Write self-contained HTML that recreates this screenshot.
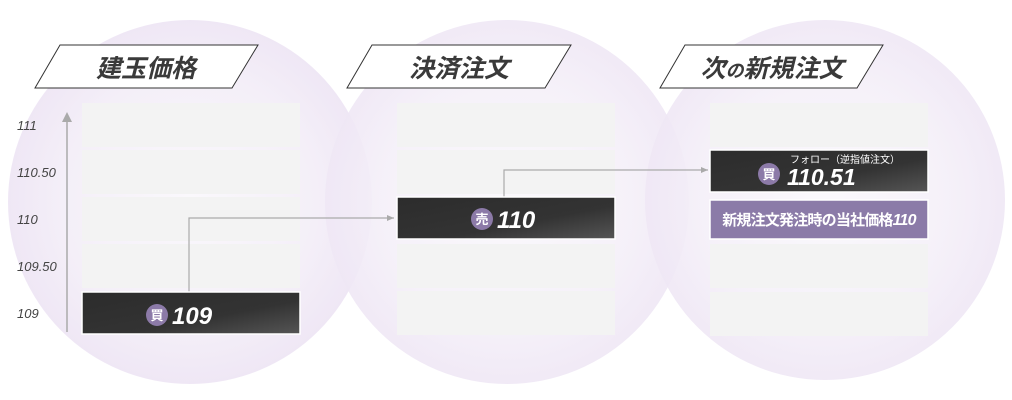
<!DOCTYPE html>
<html><head><meta charset="utf-8"><style>
html,body{margin:0;padding:0;background:#fff;}
svg{display:block}
text{font-family:"Liberation Sans","Noto Sans CJK JP",sans-serif;}
</style></head><body>
<svg width="1012" height="400" viewBox="0 0 1012 400" xmlns="http://www.w3.org/2000/svg">
<defs>
<radialGradient id="cg" cx="50%" cy="50%" r="50%">
<stop offset="0" stop-color="#faf8fc"/><stop offset="0.7" stop-color="#f4eff8"/><stop offset="1" stop-color="#efe7f5"/>
</radialGradient>
<linearGradient id="bar" x1="0" y1="0" x2="1" y2="1">
<stop offset="0" stop-color="#2c2c2c"/><stop offset="0.6" stop-color="#333"/><stop offset="1" stop-color="#555"/>
</linearGradient>
<marker id="ar" markerWidth="8" markerHeight="8" refX="7" refY="4" orient="auto" markerUnits="userSpaceOnUse">
<path d="M0,1 L7,4 L0,7 Z" fill="#aaa"/></marker>
</defs>
<circle cx="190" cy="202" r="182" fill="url(#cg)"/>
<circle cx="507" cy="202" r="182" fill="url(#cg)" opacity="0.9"/>
<circle cx="825" cy="200" r="180" fill="url(#cg)" opacity="0.9"/>

<g stroke="#333" stroke-width="1" fill="#fff">
<polygon points="60,45 258,45 232,88 35,88"/>
<polygon points="372,45 571,45 545,88 347,88"/>
<polygon points="685,45 883,45 857,88 660,88"/>
</g>
<g font-size="25" font-weight="bold" font-style="italic" fill="#3a3a3a" text-anchor="middle">
<text x="146" y="77">建玉価格</text>
<text x="459" y="77">決済注文</text>
<text x="772" y="77">次<tspan font-size="18">の</tspan>新規注文</text>
</g>

<g fill="#f3f3f3">
<rect x="82" y="103" width="218" height="44"/><rect x="82" y="150" width="218" height="44"/><rect x="82" y="197" width="218" height="44"/><rect x="82" y="244" width="218" height="44"/>
<rect x="397" y="103" width="218" height="44"/><rect x="397" y="150" width="218" height="44"/><rect x="397" y="244" width="218" height="44"/><rect x="397" y="291" width="218" height="44"/>
<rect x="710" y="103" width="218" height="44"/><rect x="710" y="244" width="218" height="44"/><rect x="710" y="292" width="218" height="44"/>
</g>

<line x1="67" y1="332" x2="67" y2="114" stroke="#aaa" stroke-width="1.5"/>
<path d="M62,122 L67,112 L72,122 Z" fill="#aaa"/>
<g font-size="13" font-style="italic" fill="#444">
<text x="17" y="130">111</text><text x="17" y="177">110.50</text><text x="17" y="224">110</text><text x="17" y="271">109.50</text><text x="17" y="318">109</text>
</g>

<polyline points="189,292 189,218 394,218" fill="none" stroke="#aaa" stroke-width="1.2" marker-end="url(#ar)"/>
<polyline points="504,197 504,170 708,170" fill="none" stroke="#aaa" stroke-width="1.2" marker-end="url(#ar)"/>

<rect x="82" y="292" width="218" height="42" fill="url(#bar)" stroke="#fff" stroke-width="1.5"/>
<circle cx="157" cy="315" r="11" fill="#8c7aa8"/>
<text x="157" y="320" font-size="13" font-weight="bold" fill="#fff" text-anchor="middle">買</text>
<text x="172" y="324" font-size="24" font-weight="bold" font-style="italic" fill="#fff">109</text>

<rect x="397" y="197" width="218" height="42" fill="url(#bar)" stroke="#fff" stroke-width="1.5"/>
<circle cx="482" cy="219" r="11" fill="#8c7aa8"/>
<text x="482" y="224" font-size="13" font-weight="bold" fill="#fff" text-anchor="middle">売</text>
<text x="497" y="228" font-size="24" font-weight="bold" font-style="italic" fill="#fff">110</text>

<rect x="710" y="150" width="218" height="42" fill="url(#bar)" stroke="#fff" stroke-width="1.5"/>
<circle cx="769" cy="174" r="11" fill="#8c7aa8"/>
<text x="769" y="179" font-size="13" font-weight="bold" fill="#fff" text-anchor="middle">買</text>
<text x="790" y="163" font-size="10" fill="#fff">フォロー（逆指値注文）</text>
<text x="787" y="185" font-size="23" font-weight="bold" font-style="italic" fill="#fff">110.51</text>

<rect x="710" y="200" width="218" height="39" fill="#8b7ba8" stroke="#fff" stroke-width="1.5"/>
<text x="819" y="225" font-size="15" font-weight="bold" fill="#fff" text-anchor="middle" letter-spacing="-0.8">新規注文発注時の当社価格<tspan font-style="italic" font-size="16">110</tspan></text>
</svg>
</body></html>
